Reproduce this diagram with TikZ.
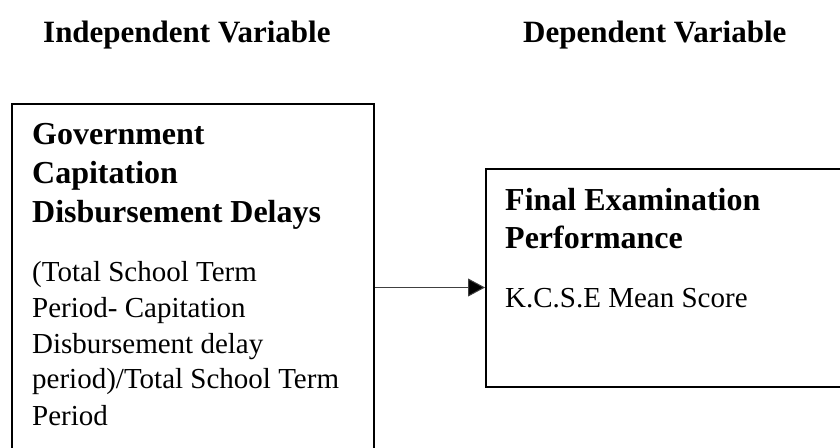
\documentclass[tikz,border=0pt]{standalone}
\usepackage{fontspec}
\setmainfont{Liberation Serif}
\usetikzlibrary{arrows.meta}

\tikzset{
  frame/.style={draw=black, line width=2pt, rectangle, inner sep=0pt},
  heading/.style={anchor=base west, inner sep=0pt, font=\bfseries\fontsize{31}{37}\selectfont},
  titleline/.style={anchor=base west, inner sep=0pt, font=\bfseries\fontsize{32}{39}\selectfont},
  bodyline/.style={anchor=base west, inner sep=0pt, font=\fontsize{29}{36}\selectfont},
  link/.style={line width=1pt, draw=black!75, -{Triangle[length=17pt, width=18pt, fill=black]}}
}

\begin{document}
\begin{tikzpicture}[x=1pt, y=-1pt]
  \useasboundingbox (0,0) rectangle (840,447);
  \clip (0,0) rectangle (840,447);

  % column headings
  \node[heading] (hind) at (43,42) {Independent Variable};
  \node[heading] (hdep) at (523,42) {Dependent Variable};

  % boxes (they run past the lower and right edges)
  \node[frame, minimum width=362pt, minimum height=380pt, anchor=north west] (lbox) at (11,103) {};
  \node[frame, minimum width=400pt, minimum height=218pt, anchor=north west] (rbox) at (485,168) {};

  % independent variable text
  \node[titleline] (l1) at (32,144) {Government};
  \node[titleline] (l2) at (32,183) {Capitation};
  \node[titleline] (l3) at (32,222) {Disbursement Delays};
  \node[bodyline] (l4) at (32,281) {(Total School Term};
  \node[bodyline] (l5) at (32,317) {Period- Capitation};
  \node[bodyline] (l6) at (32,353) {Disbursement delay};
  \node[bodyline] (l7) at (32,388) {period)/Total School Term};
  \node[bodyline] (l8) at (32,425) {Period};

  % dependent variable text
  \node[titleline] (r1) at (505,210) {Final Examination};
  \node[titleline] (r2) at (505,248) {Performance};
  \node[bodyline] (r3) at (505,307) {K.C.S.E Mean Score};

  % connector
  \coordinate (ay) at (0,287.5);
  \draw[link] (lbox.east |- ay) -- (rbox.west |- ay);
\end{tikzpicture}
\end{document}
